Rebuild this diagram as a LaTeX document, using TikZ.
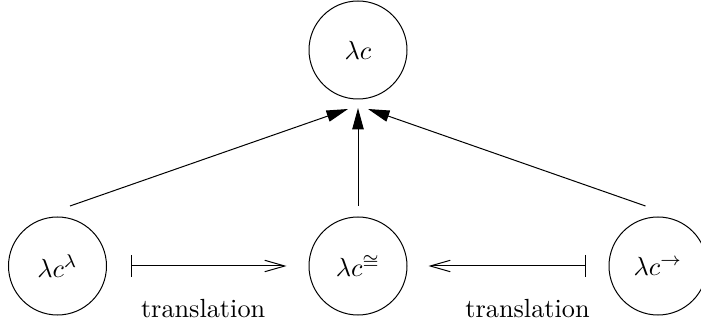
\documentclass[tikz,border=0pt]{standalone}
\usepackage{graphicx}
\usetikzlibrary{arrows.meta,calc}
\newcommand{\bigtxt}[1]{\scalebox{1.05}{#1}}
\begin{document}
\begin{tikzpicture}[x=0.4pt,y=0.4pt,
  state/.style={draw,circle,minimum size=39.2pt,inner sep=0pt},
  upedge/.style={-{Triangle[length=8.6pt,width=4.6pt]}},
  mapsto/.style={{Bar[width=8.8pt]}-{Straight Barb[length=8pt,width=4.6pt]}},
  lbl/.style={anchor=base,yshift=-20.4pt,inner sep=0pt}]
\useasboundingbox (0,0) rectangle (701,327);
\node[state] (t) at (358,277) {\bigtxt{$\lambda c$}};
\node[state] (l) at (57.5,61) {\bigtxt{$\lambda c^{\lambda}$}};
\node[state] (m) at (358,61) {\bigtxt{$\lambda c^{\cong}$}};
\node[state] (r) at (658,61) {\bigtxt{$\lambda c^{\to}$}};
\draw[upedge] ($(l)+(12.5,60)$) -- ($(t)+(-10,-59)$);
\draw[upedge] ($(m)+(0,60)$) -- ($(t)+(0,-58)$);
\draw[upedge] ($(r)+(-12.5,60)$) -- ($(t)+(10,-59)$);
\draw[mapsto,shorten <=9.4pt,shorten >=8.8pt] (l) -- node[lbl,pos=0.477] (tl) {\bigtxt{translation}} (m);
\draw[mapsto,shorten <=9.2pt,shorten >=8.4pt] (r) -- node[lbl,pos=0.403] (tr) {\bigtxt{translation}} (m);
\end{tikzpicture}
\end{document}
